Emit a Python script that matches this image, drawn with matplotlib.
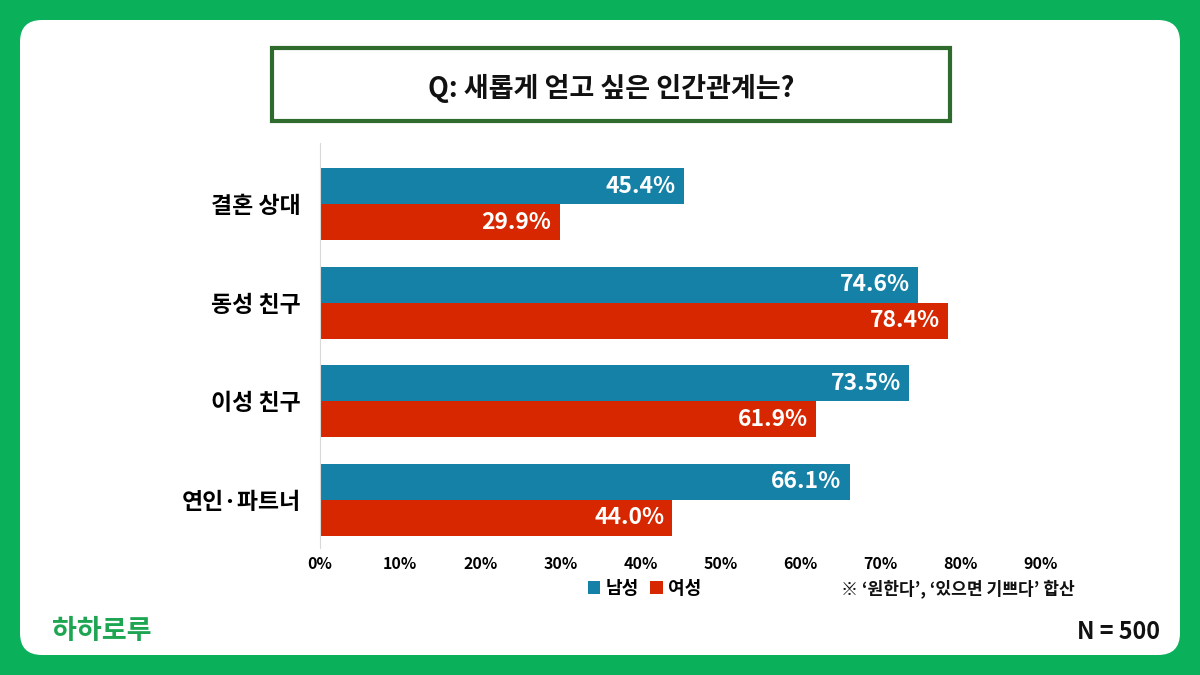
import matplotlib.pyplot as plt
import numpy as np
from matplotlib.patches import FancyBboxPatch, Rectangle

plt.rcParams['font.family'] = ['Noto Sans CJK KR', 'DejaVu Sans']

# data
categories = ['결혼 상대', '동성 친구', '이성 친구', '연인·파트너']
male = [45.4, 74.6, 73.5, 66.1]
female = [29.9, 78.4, 61.9, 44.0]
xticks = [0, 10, 20, 30, 40, 50, 60, 70, 80, 90]

BLUE = '#1581A6'
RED = '#D62700'
BG_GREEN = '#0BB05B'

W, H = 1200, 675
fig = plt.figure(figsize=(12, 6.75), dpi=100)
fig.patch.set_facecolor(BG_GREEN)

# background layer in pixel coordinates
bg = fig.add_axes([0, 0, 1, 1])
bg.set_xlim(0, W)
bg.set_ylim(H, 0)
bg.axis('off')
bg.add_patch(FancyBboxPatch((20, 20), 1160, 635, boxstyle='round,pad=0,rounding_size=22',
                            facecolor='white', edgecolor='none'))
bg.add_patch(Rectangle((272, 48), 678, 73, facecolor='white', edgecolor='#2F6B2C', lw=3))
bg.text(611, 88, 'Q: 새롭게 얻고 싶은 인간관계는?', ha='center', va='center',
        fontsize=19.5, fontweight='bold', color='#111111')
bg.text(52, 631, '하하로루', ha='left', va='center', fontsize=19.5, fontweight='bold', color='#1DA552')
bg.text(1160, 632, 'N = 500', ha='right', va='center', fontsize=16.8, fontweight='bold', color='#111111')
bg.text(1075, 589, '※ ‘원한다’, ‘있으면 기쁘다’ 합산', ha='right', va='center',
        fontsize=12.3, fontweight='bold', color='#111111')

# chart
left, right, top, bottom = 320, 1041, 143, 548
ax = fig.add_axes([left / W, 1 - bottom / H, (right - left) / W, (bottom - top) / H])
ax.set_facecolor('none')
y = np.arange(len(categories))
h = 0.365
bm = ax.barh(y - h / 2, male, height=h, color=BLUE, label='남성')
bf = ax.barh(y + h / 2, female, height=h, color=RED, label='여성')
for bars, vals in ((bm, male), (bf, female)):
    for b, v in zip(bars, vals):
        ax.text(v - 1.0, b.get_y() + b.get_height() / 2, f'{v:.1f}%', ha='right', va='center',
                color='white', fontsize=16.5, fontweight='bold')

ax.set_xlim(0, 90)
ax.set_ylim(3.49, -0.62)
ax.set_xticks(xticks)
ax.set_xticklabels([f'{t}%' for t in xticks], fontsize=11.5, fontweight='bold')
ax.set_yticks(y)
ax.set_yticklabels(categories, fontsize=16.5, fontweight='bold')
ax.tick_params(axis='both', length=0)
ax.tick_params(axis='y', pad=14)
ax.tick_params(axis='x', pad=6)
for s in ['top', 'right', 'bottom']:
    ax.spines[s].set_visible(False)
ax.spines['left'].set_color('#D9D9D9')

leg = ax.legend(loc='center', bbox_to_anchor=(0.45, -0.1), ncol=2, frameon=False,
                handlelength=0.7, handleheight=0.7, handletextpad=0.3, columnspacing=0.6,
                prop={'weight': 'bold', 'size': 13})

fig.savefig('out.png', dpi=100, facecolor=fig.get_facecolor())
